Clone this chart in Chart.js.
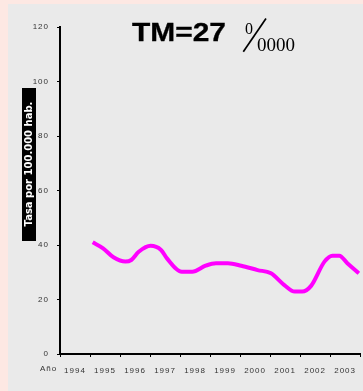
<!DOCTYPE html>
<html>
<head>
<meta charset="utf-8">
<script src="https://cdn.jsdelivr.net/npm/chart.js@4.4.1/dist/chart.umd.min.js"></script>
<style>
  html, body { margin: 0; padding: 0; overflow: hidden; background: #FDE8E3; }
  canvas { display: block; }
</style>
</head>
<body>
<canvas id="grafico" width="363" height="391"></canvas>
<script>
// años del eje x
const anios = ["1994", "1995", "1996", "1997", "1998", "1999", "2000", "2001", "2002", "2003"];
// posiciones en el tiempo (año decimal) y tasa por 100.000 hab.
const tiempo = [1994.6, 1994.95, 1995.3, 1995.7, 1995.9, 1996.15, 1996.55, 1996.9, 1997.1, 1997.6, 1997.95,
  1998.4, 1998.75, 1999.15, 1999.6, 2000.15, 2000.6, 2001.05, 2001.4, 2001.65, 2001.95, 2002.4, 2002.67,
  2002.9, 2003.17, 2003.56];
const tasa = [41.0, 38.8, 35.5, 33.9, 34.5, 37.5, 39.7, 38.2, 35.1, 30.2, 30.2,
  32.4, 33.3, 33.3, 32.4, 30.8, 29.6, 25.3, 22.9, 22.9, 25.0, 33.9, 36.1,
  36.1, 33.3, 29.6];
const marcasY = [0, 20, 40, 60, 80, 100, 120];

const puntos = tiempo.map((t, i) => ({ x: t, y: tasa[i] }));

const fondo = {
  id: 'fondo',
  beforeDraw(chart) {
    const ctx = chart.ctx;
    ctx.save();
    ctx.fillStyle = '#FDE8E3';
    ctx.fillRect(0, 0, chart.width, chart.height);
    ctx.fillStyle = '#EAEAEA';
    ctx.fillRect(8, 4, chart.width - 8, chart.height - 4);
    ctx.restore();
    // etiquetas de los ejes algo espaciadas
    ctx.letterSpacing = '1px';
  }
};

const textos = {
  id: 'textos',
  afterDraw(chart) {
    const ctx = chart.ctx;
    ctx.letterSpacing = '0px';
    ctx.save();
    // titulo
    ctx.fillStyle = '#000';
    ctx.strokeStyle = '#000';
    ctx.textBaseline = 'alphabetic';
    ctx.textAlign = 'left';
    ctx.save();
    ctx.translate(132, 41);
    ctx.scale(1.15, 1);
    ctx.font = 'bold 26px "Liberation Sans", Arial';
    ctx.lineWidth = 0.3;
    ctx.fillText('TM=27', 0, 0);
    ctx.strokeText('TM=27', 0, 0);
    ctx.restore();
    ctx.font = '16px "Liberation Serif", serif';
    ctx.fillText('0', 245, 34);
    ctx.beginPath();
    ctx.moveTo(243.3, 51.7);
    ctx.lineTo(266, 18.5);
    ctx.lineWidth = 1.7;
    ctx.stroke();
    ctx.font = '19px "Liberation Serif", serif';
    ctx.fillText('0000', 257, 50.5);

    // etiqueta eje y
    ctx.fillStyle = '#000';
    ctx.fillRect(22, 88, 14, 153);
    ctx.save();
    ctx.translate(29, 164);
    ctx.rotate(-Math.PI / 2);
    ctx.fillStyle = '#fff';
    ctx.textAlign = 'center';
    ctx.textBaseline = 'middle';
    ctx.font = 'bold 10px "DejaVu Sans"';
    ctx.fillText('Tasa por 100.000 hab.', 0, 0);
    ctx.restore();

    // Año
    ctx.fillStyle = '#333';
    ctx.font = '8px "Liberation Sans"';
    ctx.textAlign = 'left';
    ctx.letterSpacing = '1px';
    ctx.fillText('Año', 40, 370.5);
    ctx.letterSpacing = '0px';
    ctx.restore();
  }
};

new Chart(document.getElementById('grafico'), {
  type: 'line',
  data: {
    labels: anios,
    datasets: [{
      label: 'TM',
      data: puntos,
      xAxisID: 'x2',
      borderColor: '#FF00FF',
      borderWidth: 4,
      pointRadius: 0,
      cubicInterpolationMode: 'monotone',
      fill: false
    }]
  },
  options: {
    responsive: false,
    animation: false,
    devicePixelRatio: 1,
    layout: { padding: { top: 27, right: 0, left: 0, bottom: 0 } },
    plugins: { legend: { display: false }, title: { display: false }, tooltip: { enabled: false } },
    scales: {
      x: {
        type: 'category',
        offset: true,
        grid: { offset: true, drawOnChartArea: false, tickLength: 3, tickColor: '#000' },
        border: { color: '#000', width: 2 },
        ticks: { color: '#333', font: { family: 'Liberation Sans', size: 8 }, padding: 9, maxRotation: 0, autoSkip: false },
        afterFit(scale) { scale.height = 37; }
      },
      x2: {
        type: 'linear',
        display: false,
        min: 1993.5,
        max: 2003.6
      },
      y: {
        min: 0,
        max: 120,
        afterBuildTicks(scale) { scale.ticks = marcasY.map(v => ({ value: v })); },
        grid: { drawOnChartArea: false, tickLength: 3, tickColor: '#000' },
        border: { color: '#000', width: 2 },
        ticks: { color: '#333', font: { family: 'Liberation Sans', size: 8 }, padding: 8 },
        afterFit(scale) { scale.width = 60; }
      }
    }
  },
  plugins: [fondo, textos]
});
</script>
</body>
</html>
